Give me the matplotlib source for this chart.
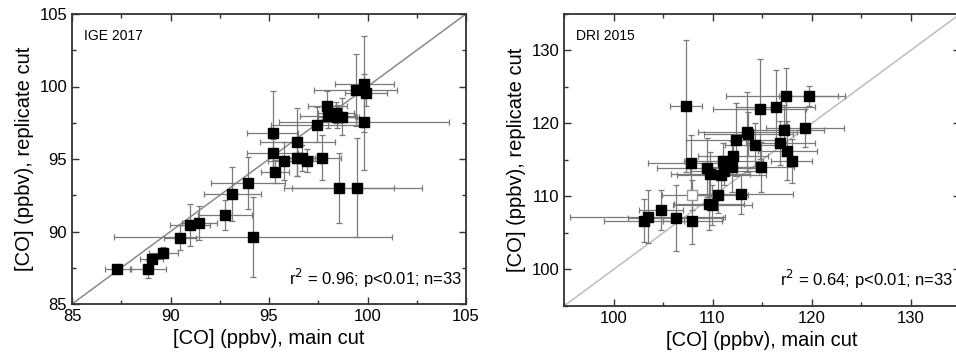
import matplotlib
matplotlib.use("Agg")
import matplotlib.pyplot as plt
from matplotlib.ticker import MultipleLocator

plt.rcParams['font.family'] = ['Liberation Sans', 'DejaVu Sans']

# ---- IGE 2017 (left panel) ----
ige_main = [87.3, 88.87, 89.04, 89.64, 90.48, 90.99, 91.46, 92.77, 93.14, 93.93, 94.17,
            95.19, 95.19, 95.30, 95.78, 96.44, 96.44, 96.66, 96.95, 97.67, 97.42, 97.96,
            97.98, 98.40, 98.47, 98.69, 98.55, 99.45, 99.40, 99.84, 99.92, 99.82]
ige_rep = [87.39, 87.41, 88.1, 88.54, 89.57, 90.43, 90.61, 91.16, 92.59, 93.32, 89.64,
           96.81, 95.39, 94.12, 94.84, 96.17, 95.05, 95.05, 94.88, 95.09, 97.37, 98.66,
           97.97, 98.2, 97.93, 97.93, 93.02, 93.02, 99.76, 100.15, 99.57, 97.53]
ige_xerr = [0.63, 0.9, 0.57, 0.72, 0.8, 1.0, 0.9, 1.35, 1.44, 1.86, 7.05,
            1.3, 1.3, 0.7, 0.83, 1.9, 0.8, 0.7, 0.7, 1.0, 2.3, 1.0,
            1.4, 0.9, 1.0, 0.9, 2.8, 3.3, 2.1, 1.5, 1.05, 4.3]
ige_yerr = [0.35, 0.65, 0.3, 0.4, 0.86, 1.46, 1.18, 1.03, 1.84, 1.8, 2.76,
            2.9, 1.0, 0.8, 1.3, 2.36, 1.2, 0.9, 0.8, 1.55, 1.2, 1.0,
            0.8, 0.7, 0.8, 1.3, 2.4, 3.4, 2.5, 3.3, 0.9, 3.3]

# ---- DRI 2015 (right panel) ----
dri_main = [107.29, 107.83, 103.08, 103.45, 104.8, 106.28, 107.96, 109.65, 109.98, 110.59,
            112.85, 109.4, 109.78, 110.89, 111.19, 111.09, 111.94, 112.07, 112.37, 113.52,
            113.6, 114.3, 114.76, 116.4, 117.4, 119.7, 117.25, 119.34, 116.85, 117.56,
            118.0, 114.9]
dri_rep = [122.4, 114.63, 106.69, 107.24, 108.15, 107.1, 106.64, 108.97, 108.84, 110.2,
           110.34, 113.95, 113.08, 112.95, 113.54, 114.86, 114.08, 115.59, 117.74, 118.88,
           118.56, 117.1, 121.99, 122.2, 123.77, 123.77, 119.1, 119.34, 117.28, 116.28,
           114.86, 114.08]
dri_xerr = [1.6, 4.3, 4.0, 7.8, 2.2, 4.8, 3.0, 3.5, 4.0, 3.0,
            5.3, 5.0, 4.0, 4.5, 3.5, 4.0, 3.0, 3.5, 5.0, 5.0,
            4.5, 3.0, 4.7, 4.0, 6.0, 3.0, 4.0, 3.9, 3.5, 3.0,
            2.1, 3.3]
dri_yerr = [9.1, 3.8, 2.9, 3.6, 2.7, 4.5, 3.1, 3.5, 2.8, 2.5,
            2.8, 4.0, 3.0, 2.5, 2.0, 2.5, 3.5, 2.0, 5.0, 5.5,
            3.0, 3.0, 6.9, 5.1, 3.9, 1.4, 3.5, 2.6, 3.0, 4.0,
            3.0, 3.4]
# open-symbol sample
dri_open_main = [107.9]
dri_open_rep = [110.2]
dri_open_xerr = [3.0]
dri_open_yerr = [2.0]

fig = plt.figure(figsize=(9.56, 3.62), dpi=100)
ax1 = fig.add_axes([72/956, 58/362, 394/956, 290/362])
ax2 = fig.add_axes([564/956, 56/362, 396/956, 292/362])

err_kw = dict(fmt='none', ecolor='#7a7a7a', elinewidth=0.9, capsize=2.2, capthick=0.9, zorder=2)

def style(ax, lo, hi, major, minor):
    ax.set_xlim(lo, hi)
    ax.set_ylim(lo, hi)
    ax.xaxis.set_major_locator(MultipleLocator(major))
    ax.xaxis.set_minor_locator(MultipleLocator(minor))
    ax.yaxis.set_major_locator(MultipleLocator(major))
    ax.yaxis.set_minor_locator(MultipleLocator(minor))
    ax.tick_params(which='both', direction='in', top=True, right=True, width=1.0, color='#333333')
    ax.tick_params(which='major', length=5, labelsize=12)
    ax.tick_params(which='minor', length=3)
    for s in ax.spines.values():
        s.set_linewidth(1.3)
        s.set_color('#333333')
    ax.set_xlabel('[CO] (ppbv), main cut', fontsize=14.5, labelpad=4)
    ax.set_ylabel('[CO] (ppbv), replicate cut', fontsize=14.5, labelpad=4)

# left
ax1.plot([85, 105], [85, 105], color='#8a8a8a', lw=1.1, zorder=1)
ax1.errorbar(ige_main, ige_rep, xerr=ige_xerr, yerr=ige_yerr, **err_kw)
ax1.plot(ige_main, ige_rep, 's', color='black', ms=6.8, zorder=3)
style(ax1, 85, 105, 5, 2.5)
ax1.text(0.03, 0.95, 'IGE 2017', transform=ax1.transAxes, fontsize=10, va='top', ha='left')
ax1.text(0.99, 0.05, r'r$^2$ = 0.96; p<0.01; n=33', transform=ax1.transAxes,
         fontsize=12, ha='right', va='bottom')

# right
ax2.plot([95, 135], [95, 135], color='#bdbdbd', lw=1.1, zorder=1)
ax2.errorbar(dri_main, dri_rep, xerr=dri_xerr, yerr=dri_yerr, **err_kw)
ax2.errorbar(dri_open_main, dri_open_rep, xerr=dri_open_xerr, yerr=dri_open_yerr, **err_kw)
ax2.plot(dri_main, dri_rep, 's', color='black', ms=6.8, zorder=3)
ax2.plot(dri_open_main, dri_open_rep, 's', mfc='white', mec='#999999', ms=6.8, zorder=3)
style(ax2, 95, 135, 10, 5)
ax2.text(0.03, 0.95, 'DRI 2015', transform=ax2.transAxes, fontsize=10, va='top', ha='left')
ax2.text(0.983, 0.05, r'r$^2$ = 0.64; p<0.01; n=33', transform=ax2.transAxes,
         fontsize=12, ha='right', va='bottom')

fig.savefig('out.png', dpi=100)
